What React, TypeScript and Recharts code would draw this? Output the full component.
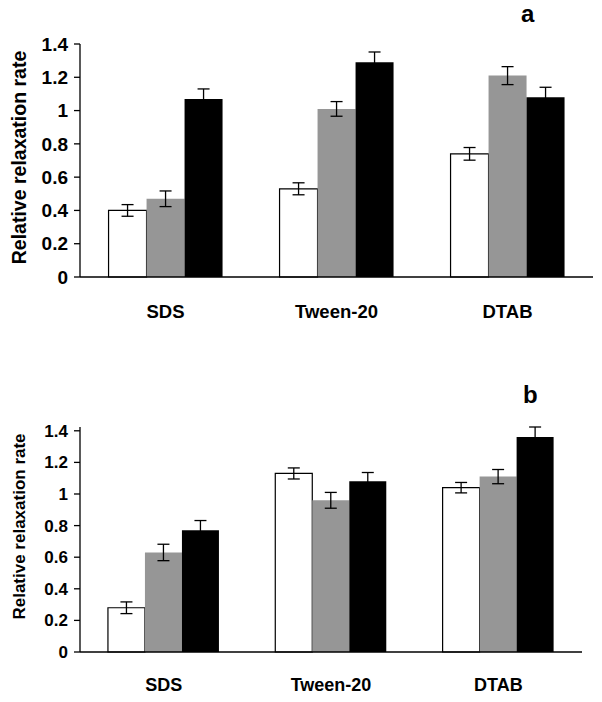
import React from "react";
import { BarChart, Bar, XAxis, YAxis, ErrorBar } from "recharts";

const categories = ["SDS", "Tween-20", "DTAB"];
const yTicks = [0, 0.2, 0.4, 0.6, 0.8, 1, 1.2, 1.4];

// panel a
const aWhite = [0.4, 0.53, 0.74];
const aWhiteErr = [0.035, 0.036, 0.038];
const aGray = [0.47, 1.01, 1.21];
const aGrayErr = [0.047, 0.044, 0.054];
const aBlack = [1.07, 1.29, 1.08];
const aBlackErr = [0.06, 0.062, 0.06];

// panel b
const bWhite = [0.28, 1.13, 1.04];
const bWhiteErr = [0.037, 0.035, 0.033];
const bGray = [0.63, 0.96, 1.11];
const bGrayErr = [0.052, 0.05, 0.045];
const bBlack = [0.77, 1.08, 1.36];
const bBlackErr = [0.062, 0.056, 0.064];

const FONT = '"Liberation Sans", Arial, sans-serif';
const GRAY = "#969696";

const buildRows = (w: number[], we: number[], g: number[], ge: number[], b: number[], be: number[]) =>
  categories.map((name, i) => ({
    name,
    white: w[i], whiteErr: we[i],
    gray: g[i], grayErr: ge[i],
    black: b[i], blackErr: be[i],
  }));

type PanelProps = {
  rows: ReturnType<typeof buildRows>;
  height: number;
  margin: { top: number; right: number; left: number; bottom: number };
  tickFont: number;
  catFont: number;
  labelFont: number;
  labelShift: number;
  catMargin: number;
};

const Panel = ({ rows, height, margin, tickFont, catFont, labelFont, labelShift, catMargin }: PanelProps) => (
  <BarChart width={602} height={height} data={rows} margin={margin} barCategoryGap="16.7%" barGap={0}>
    <XAxis
      dataKey="name"
      height={30}
      axisLine={{ stroke: "#000", strokeWidth: 1.3 }}
      tickLine={false}
      tickSize={0}
      tickMargin={catMargin}
      tick={{ fill: "#000", fontSize: catFont, fontWeight: "bold", fontFamily: FONT }}
    />
    <YAxis
      width={80}
      domain={[0, 1.4]}
      ticks={yTicks}
      interval={0}
      axisLine={{ stroke: "#000", strokeWidth: 1.3 }}
      tickLine={{ stroke: "#000", strokeWidth: 1.3 }}
      tickSize={6}
      tickMargin={6}
      tick={{ fill: "#000", fontSize: tickFont, fontWeight: "bold", fontFamily: FONT }}
      label={{
        content: (props: any) => {
          const vb = props.viewBox || {};
          const cx = 19;
          const cy = vb.y + vb.height / 2 + labelShift;
          return (
            <text
              x={cx}
              y={cy}
              transform={`rotate(-90, ${cx}, ${cy})`}
              textAnchor="middle"
              dominantBaseline="central"
              fontFamily={FONT}
              fontWeight="bold"
              fontSize={labelFont}
              fill="#000"
            >
              Relative relaxation rate
            </text>
          );
        },
      }}
    />
    <Bar dataKey="white" fill="#fff" stroke="#000" strokeWidth={1.2} isAnimationActive={false}>
      <ErrorBar dataKey="whiteErr" width={6} stroke="#000" strokeWidth={1.3} />
    </Bar>
    <Bar dataKey="gray" fill={GRAY} isAnimationActive={false}>
      <ErrorBar dataKey="grayErr" width={6} stroke="#000" strokeWidth={1.3} />
    </Bar>
    <Bar dataKey="black" fill="#000" isAnimationActive={false}>
      <ErrorBar dataKey="blackErr" width={6} stroke="#000" strokeWidth={1.3} />
    </Bar>
  </BarChart>
);

export default function App() {
  const rowsA = buildRows(aWhite, aWhiteErr, aGray, aGrayErr, aBlack, aBlackErr);
  const rowsB = buildRows(bWhite, bWhiteErr, bGray, bGrayErr, bBlack, bBlackErr);
  const panelLetter: React.CSSProperties = {
    position: "absolute",
    fontFamily: FONT,
    fontWeight: "bold",
    fontSize: 24,
    lineHeight: "24px",
  };
  return (
    <div style={{ position: "absolute", left: 0, top: 0, width: 602, height: 702, background: "#fff" }}>
      <div style={{ position: "absolute", left: 0, top: 0 }}>
        <Panel
          rows={rowsA}
          height={350}
          margin={{ top: 44, right: 9, left: 0, bottom: 43 }}
          tickFont={19}
          catFont={18.5}
          labelFont={19.5}
          labelShift={-3}
          catMargin={28}
        />
      </div>
      <div style={{ position: "absolute", left: 0, top: 350 }}>
        <Panel
          rows={rowsB}
          height={352}
          margin={{ top: 77, right: 20, left: 0, bottom: 20 }}
          tickFont={17}
          catFont={18}
          labelFont={17}
          labelShift={-13}
          catMargin={26}
        />
      </div>
      <div style={{ ...panelLetter, left: 521, top: 2 }}>a</div>
      <div style={{ ...panelLetter, left: 523, top: 383 }}>b</div>
    </div>
  );
}
